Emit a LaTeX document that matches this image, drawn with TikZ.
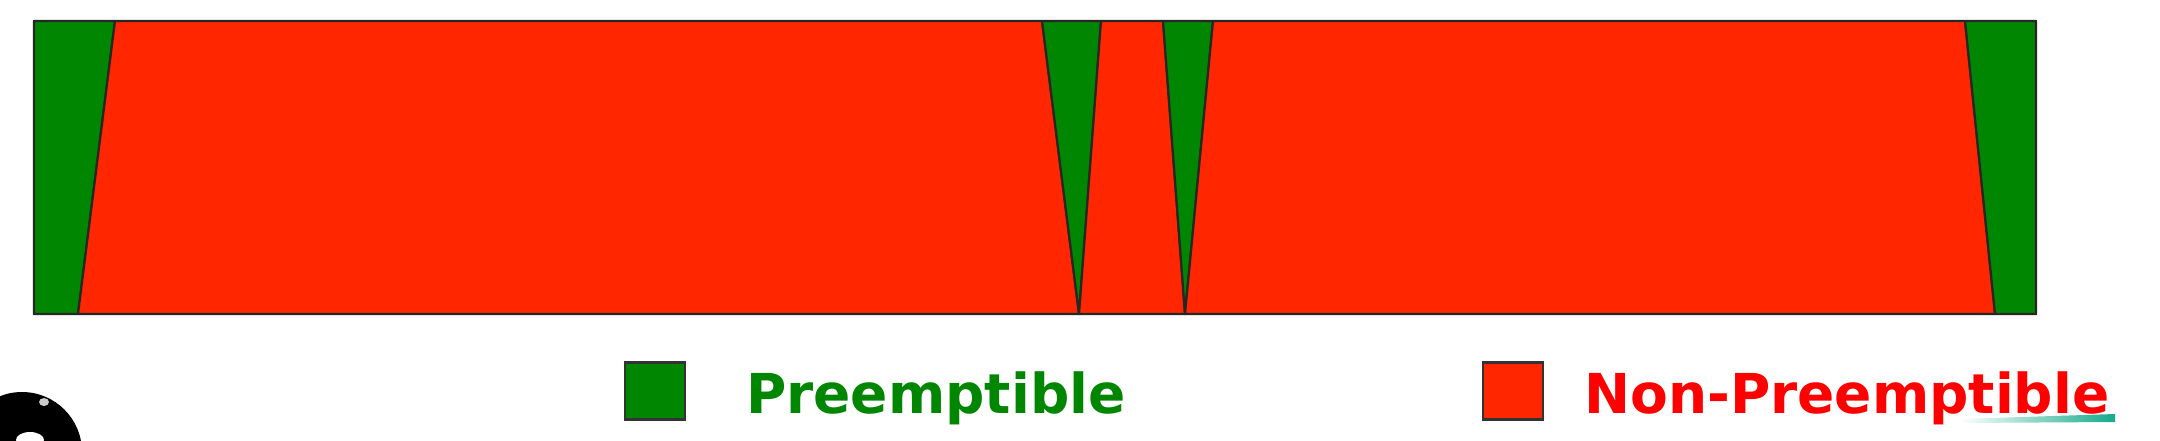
\documentclass[tikz,border=0pt]{standalone}
\usepackage{fontspec}
\setmainfont{DejaVu Sans}
\begin{document}
\begin{tikzpicture}[x=1pt,y=-1pt,
  seg/.style={draw=black!85,line width=2.2pt,line join=round},
  pgreen/.style={seg,fill=pgr},
  pred/.style={seg,fill=prd},
  legsq/.style={draw=black!80,line width=2.4pt,minimum width=60pt,minimum height=57pt,inner sep=0pt},
  legtxt/.style={anchor=base west,inner sep=0pt,font=\fontsize{55}{60}\selectfont\bfseries}]
\definecolor{pgr}{RGB}{0,134,0}
\definecolor{prd}{RGB}{255,38,0}
\definecolor{tred}{RGB}{255,0,0}
\definecolor{teal}{RGB}{20,170,140}
\useasboundingbox (0,0) rectangle (2160,440);
\fill[white] (0,0) rectangle (2160,440);
% bar segments
\filldraw[pgreen] (34,21) -- (115,21) -- (78,314) -- (34,314) -- cycle;
\filldraw[pred] (115,21) -- (1042,21) -- (1079,314) -- (78,314) -- cycle;
\filldraw[pgreen] (1042,21) -- (1101,21) -- (1079,314) -- cycle;
\filldraw[pred] (1101,21) -- (1163,21) -- (1185,314) -- (1079,314) -- cycle;
\filldraw[pgreen] (1163,21) -- (1213,21) -- (1185,314) -- cycle;
\filldraw[pred] (1213,21) -- (1965,21) -- (1995,314) -- (1185,314) -- cycle;
\filldraw[pgreen] (1965,21) -- (2036,21) -- (2036,314) -- (1995,314) -- cycle;
\draw[draw=black!85,line width=2.2pt] (34,21) rectangle (2036,314);
% legend
\node[legsq,fill=pgr] (gsq) at (655,391) {};
\node[legtxt,text=pgr] (gtxt) at (746,413) {Preemptible};
\node[legsq,fill=prd] (rsq) at (1513,391) {};
\node[legtxt,text=tred] (rtxt) at (1584,413) {Non-Preemptible};
\shade[left color=white,right color=teal] (1960,419) -- (2115,414) -- (2115,422) -- (1960,423) -- cycle;
% dark ball at bottom left
\fill[black] (22,452) circle (60);
\fill[white!80!black] (44,402) ellipse (5 and 4);
\fill[white] (30,440) ellipse (14 and 8);
\end{tikzpicture}
\end{document}
